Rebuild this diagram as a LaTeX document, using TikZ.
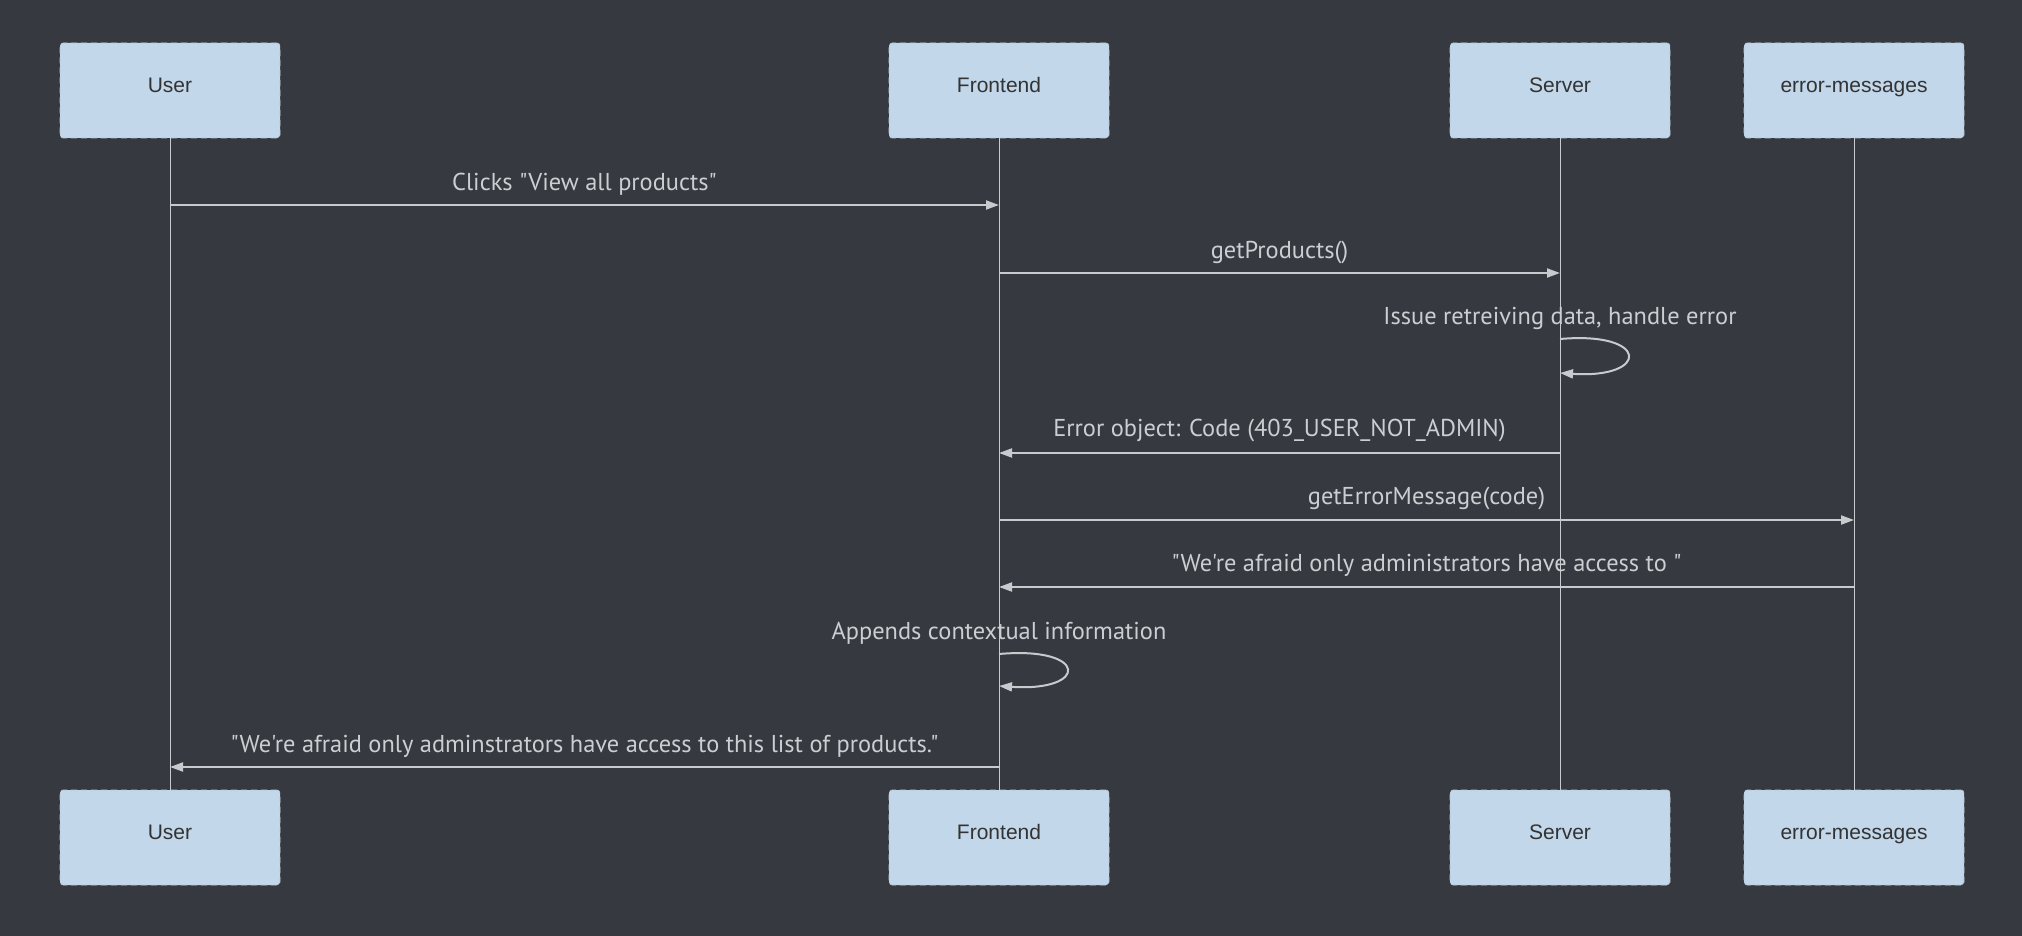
\documentclass[tikz,border=0pt]{standalone}
\usepackage{fontspec}
\usepackage{xcolor}
\usepackage{tikz}
\usetikzlibrary{arrows.meta}

\newfontfamily\msgfont{PT Sans}
\newfontfamily\actorfont{Liberation Sans}

\definecolor{bgdark}{RGB}{54,57,63}
\definecolor{boxfill}{RGB}{194,215,234}
\definecolor{boxline}{RGB}{185,198,212}
\definecolor{linegray}{RGB}{200,202,206}
\definecolor{msggray}{RGB}{204,206,210}
\definecolor{boxtext}{RGB}{51,51,51}

\tikzset{
  actor/.style={rectangle, rounded corners=1.5pt, fill=boxfill, draw=boxline,
    densely dashed, line width=0.3pt, minimum width=110pt, minimum height=47.5pt,
    label={[font=\actorfont\fontsize{10.5}{12}\selectfont, text=boxtext,
      text height=8pt, text depth=2.5pt, yshift=1.9pt]center:#1}},
  lifeline/.style={draw=linegray, line width=0.5pt},
  msg/.style={draw=linegray, line width=1pt, -{Triangle[length=6.5pt,width=4.5pt]}},
  msgtext/.style={text=msggray, font=\msgfont\fontsize{12.2}{14}\selectfont}
}

\begin{document}
\begin{tikzpicture}[x=0.5pt,y=-0.5pt]
        % Background
        \fill[bgdark] (0,0) rectangle (2022,936);
        \useasboundingbox (0,0) rectangle (2022,936);

        % Actors, top and bottom
        \node[actor=User] (user) at (170,90.5) {};
        \node[actor=Frontend] (front) at (999,90.5) {};
        \node[actor=Server] (server) at (1560,90.5) {};
        \node[actor=error-messages] (errmsg) at (1854,90.5) {};
        \node[actor=User] (userB) at (170,837.5) {};
        \node[actor=Frontend] (frontB) at (999,837.5) {};
        \node[actor=Server] (serverB) at (1560,837.5) {};
        \node[actor=error-messages] (errmsgB) at (1854,837.5) {};

        % Lifelines
        \draw[lifeline] (user.south) -- (userB.north);
        \draw[lifeline] (front.south) -- (frontB.north);
        \draw[lifeline] (server.south) -- (serverB.north);
        \draw[lifeline] (errmsg.south) -- (errmsgB.north);

        % User asks for products
        \draw[msg] (user |- 0,205) -- (front |- 0,205)
        node[msgtext, midway, yshift=10.4pt] {Clicks "View all products"};

        % Frontend calls server
        \draw[msg] (front |- 0,273) -- (server |- 0,273)
        node[msgtext, midway, yshift=10.4pt] {getProducts()};

        % Server handles error
        \node[msgtext] (serverloop) at (server |- 0,318) {Issue retreiving data, handle error};
        \draw[msg] (server |- 0,339) .. controls +(90,-8) and +(90,6) .. (server |- 0,373);

        % Error back to frontend
        \draw[msg] (server |- 0,453) -- (front |- 0,453)
        node[msgtext, midway, yshift=11.4pt] {Error object: Code (403\_USER\_NOT\_ADMIN)};

        % Frontend asks error-messages
        \draw[msg] (front |- 0,520) -- (errmsg |- 0,520)
        node[msgtext, midway, yshift=10.9pt] {getErrorMessage(code)};

        \draw[msg] (errmsg |- 0,587) -- (front |- 0,587)
        node[msgtext, midway, yshift=10.9pt] {"We're afraid only administrators have access to "};

        % Frontend adds context
        \node[msgtext] (frontloop) at (front |- 0,633) {Appends contextual information};
        \draw[msg] (front |- 0,654) .. controls +(90,-8) and +(90,6) .. (front |- 0,686);

        % Message shown to user
        \draw[msg] (front |- 0,767) -- (user |- 0,767)
        node[msgtext, midway, yshift=10.4pt] {"We're afraid only adminstrators have access to this list of products."};
\end{tikzpicture}
\end{document}
